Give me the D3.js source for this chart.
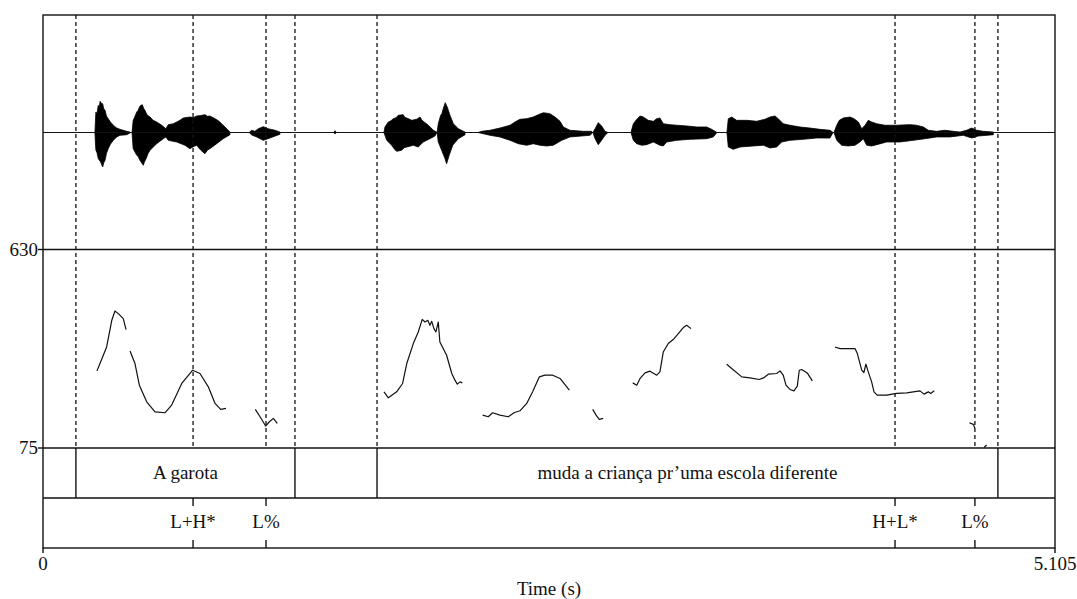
<!DOCTYPE html>
<html>
<head>
<meta charset="utf-8">
<script src="https://cdn.jsdelivr.net/npm/d3@7"></script>
<style>
  html, body { margin: 0; padding: 0; background: #fff; }
  svg text { font-family: "Liberation Serif", "Times New Roman", serif; fill: #111; }
</style>
</head>
<body>
<svg id="chart" width="1077" height="599"></svg>
<script>
// ---- data ----
const timeDomain = [0, 5.105];            // seconds
const pitchRange = [75, 630];              // Hz
const ampRange = [-1, 1];

// word tier: [start, end, label]
const wordIntervals = [
  [0, 0.166, ""],
  [0.166, 1.271, "A garota"],
  [1.271, 1.685, ""],
  [1.685, 4.817, "muda a criança pr’uma escola diferente"],
  [4.817, 5.105, ""]
];

// tone tier points
const toneTimes = [0.757, 1.125, 4.298, 4.701];
const toneLabels = ["L+H*", "L%", "H+L*", "L%"];

// F0 contour, voiced stretches as [time (s), Hz]
const pitchSeg1 = [[0.272,290.6],[0.288,312],[0.321,357.5],[0.347,432],[0.363,458],[0.380,450.7],[0.405,436.7],[0.419,406]];
const pitchSeg2 = [[0.439,346.4],[0.464,311],[0.486,250.7],[0.523,204],[0.565,176],[0.615,173.5],[0.649,195],[0.700,255.4],[0.755,292.5],[0.792,283.3],[0.834,246],[0.868,199.7],[0.896,183],[0.923,185.7]];
const pitchSeg3 = [[1.071,183],[1.095,162.3],[1.123,136.4],[1.142,148.4],[1.162,157.8],[1.182,143.9]];
const pitchSeg4 = [[1.720,232],[1.742,215.3],[1.784,232],[1.814,255.4],[1.835,311.2],[1.868,367],[1.893,399.4],[1.913,434.8],[1.927,427.3],[1.941,432],[1.952,418],[1.961,429.2],[1.972,408.8],[1.982,399.4],[1.994,427.3],[2.002,371.5],[2.036,334.4],[2.062,283.3],[2.078,264.7],[2.090,253.5],[2.104,259.9],[2.115,257.1]];
const pitchSeg5 = [[2.218,167],[2.246,162.3],[2.268,173.5],[2.305,167],[2.347,162.3],[2.376,173.5],[2.406,179],[2.440,199.7],[2.470,232],[2.504,273.9],[2.532,278.6],[2.571,278.6],[2.608,269.4],[2.655,236.8]];
const pitchSeg6 = [[2.773,183],[2.790,167],[2.806,155],[2.826,157.8]];
const pitchSeg7 = [[2.975,257.1],[2.995,250.7],[3.012,269.4],[3.037,285],[3.062,289.8],[3.096,278.6],[3.112,287.8],[3.129,343.6],[3.154,367],[3.179,378.2],[3.205,394.9],[3.230,411.6],[3.247,418],[3.269,408.8]];
const pitchSeg8 = [[3.449,309.3],[3.474,297.3],[3.525,273.9],[3.566,271],[3.613,266.6],[3.634,271],[3.659,281.4],[3.701,283.3],[3.718,290.6],[3.734,278.6],[3.748,250.7],[3.768,238.7],[3.788,234.8],[3.805,247.9],[3.815,292.5],[3.827,294.5],[3.855,285],[3.881,262.7]];
const pitchSeg9 = [[3.995,357.5],[4.021,353],[4.096,353],[4.108,339.1],[4.130,292.5],[4.141,286.1],[4.151,309.3],[4.163,287.8],[4.180,259.9],[4.192,232],[4.208,222.8],[4.256,222.8],[4.306,227.6],[4.357,229.2],[4.390,232],[4.424,234.8],[4.444,225.6],[4.466,232],[4.478,227.6],[4.496,234.8]];
const pitchSeg10 = [[4.673,145.6],[4.693,141.1],[4.701,130]];
const pitchSeg11 = [[4.748,77],[4.760,83.4]];
const pitchSegments = [pitchSeg1, pitchSeg2, pitchSeg3, pitchSeg4, pitchSeg5, pitchSeg6,
                       pitchSeg7, pitchSeg8, pitchSeg9, pitchSeg10, pitchSeg11];

// waveform amplitude envelope per burst: upper and lower edges as [time, amplitude]
const waveBursts = [
  { upper: [[0.262,0],[0.265,0.120],[0.267,0.175],[0.272,0.160],[0.279,0.232],[0.284,0.215],[0.288,0.267],[0.294,0.250],[0.301,0.246],[0.306,0.205],[0.313,0.190],[0.320,0.140],[0.329,0.118],[0.340,0.090],[0.355,0.062],[0.370,0.040],[0.388,0.027],[0.422,0.010],[0.439,0.004]],
    lower: [[0.262,0],[0.265,-0.110],[0.267,-0.152],[0.272,-0.170],[0.279,-0.224],[0.290,-0.250],[0.301,-0.295],[0.306,-0.260],[0.313,-0.238],[0.320,-0.180],[0.329,-0.138],[0.340,-0.100],[0.355,-0.067],[0.370,-0.040],[0.388,-0.024],[0.422,-0.019],[0.439,-0.004]] },
  { upper: [[0.449,0],[0.455,0.104],[0.462,0.130],[0.473,0.175],[0.480,0.190],[0.489,0.226],[0.501,0.238],[0.508,0.205],[0.514,0.190],[0.525,0.150],[0.540,0.132],[0.555,0.105],[0.573,0.090],[0.599,0.062],[0.620,0.032],[0.632,0.067],[0.657,0.075],[0.682,0.096],[0.695,0.110],[0.708,0.124],[0.741,0.132],[0.760,0.128],[0.775,0.141],[0.795,0.145],[0.817,0.152],[0.830,0.138],[0.842,0.141],[0.868,0.118],[0.885,0.100],[0.901,0.075],[0.927,0.032],[0.943,0.004]],
    lower: [[0.449,0],[0.455,-0.138],[0.473,-0.195],[0.480,-0.205],[0.489,-0.238],[0.506,-0.280],[0.512,-0.250],[0.520,-0.224],[0.530,-0.180],[0.540,-0.152],[0.573,-0.096],[0.607,-0.053],[0.620,-0.038],[0.632,-0.067],[0.674,-0.081],[0.716,-0.109],[0.741,-0.138],[0.760,-0.120],[0.775,-0.109],[0.795,-0.150],[0.817,-0.181],[0.830,-0.150],[0.842,-0.138],[0.876,-0.096],[0.909,-0.053],[0.943,-0.019]] },
  { upper: [[1.040,0],[1.053,0.019],[1.069,0.010],[1.086,0.032],[1.111,0.050],[1.136,0.032],[1.170,0.019],[1.195,0.004]],
    lower: [[1.040,0],[1.053,-0.021],[1.078,-0.038],[1.111,-0.067],[1.145,-0.047],[1.195,-0.015]] },
  { upper: [[1.466,0],[1.473,0.015],[1.480,0]],
    lower: [[1.466,0],[1.473,-0.012],[1.480,0]] },
  { upper: [[1.720,0],[1.725,0.047],[1.742,0.090],[1.755,0.100],[1.767,0.118],[1.780,0.125],[1.792,0.147],[1.817,0.152],[1.826,0.128],[1.835,0.124],[1.860,0.104],[1.885,0.113],[1.902,0.132],[1.910,0.110],[1.918,0.096],[1.944,0.062],[1.969,0.019],[1.986,0.004]],
    lower: [[1.720,0],[1.734,-0.067],[1.759,-0.109],[1.772,-0.140],[1.784,-0.161],[1.809,-0.152],[1.822,-0.130],[1.835,-0.124],[1.868,-0.109],[1.893,-0.124],[1.918,-0.081],[1.952,-0.053],[1.977,-0.030],[1.986,-0.004]] },
  { upper: [[1.988,0],[1.994,0.075],[2.006,0.147],[2.012,0.160],[2.019,0.203],[2.029,0.255],[2.039,0.218],[2.053,0.147],[2.070,0.075],[2.095,0.032],[2.129,0.004]],
    lower: [[1.988,0],[1.994,-0.081],[2.011,-0.152],[2.028,-0.224],[2.036,-0.267],[2.049,-0.195],[2.067,-0.109],[2.095,-0.053],[2.129,-0.019]] },
  { upper: [[2.194,0],[2.213,0.010],[2.255,0.019],[2.305,0.038],[2.330,0.050],[2.356,0.062],[2.381,0.090],[2.406,0.113],[2.440,0.118],[2.473,0.132],[2.498,0.152],[2.524,0.169],[2.557,0.161],[2.583,0.132],[2.608,0.096],[2.625,0.047],[2.658,0.019],[2.726,0.010],[2.768,0.010]],
    lower: [[2.194,0],[2.255,-0.024],[2.305,-0.038],[2.356,-0.067],[2.398,-0.096],[2.440,-0.109],[2.473,-0.096],[2.507,-0.109],[2.541,-0.115],[2.574,-0.109],[2.617,-0.067],[2.658,-0.038],[2.759,-0.024],[2.768,-0.010]] },
  { upper: [[2.774,0],[2.785,0.032],[2.801,0.084],[2.818,0.056],[2.835,0.010],[2.850,0]],
    lower: [[2.774,0],[2.785,-0.053],[2.801,-0.104],[2.818,-0.067],[2.835,-0.024],[2.850,0]] },
  { upper: [[2.966,0],[2.978,0.075],[2.991,0.104],[3.012,0.141],[3.028,0.132],[3.053,0.104],[3.079,0.096],[3.096,0.118],[3.112,0.124],[3.129,0.075],[3.163,0.067],[3.197,0.062],[3.247,0.056],[3.298,0.047],[3.348,0.047],[3.373,0.027],[3.390,0.010],[3.400,0]],
    lower: [[2.966,0],[2.978,-0.067],[2.995,-0.096],[3.020,-0.109],[3.045,-0.104],[3.079,-0.081],[3.112,-0.109],[3.129,-0.115],[3.146,-0.081],[3.197,-0.067],[3.264,-0.058],[3.348,-0.053],[3.381,-0.038],[3.400,0]] },
  { upper: [[3.450,0],[3.457,0.118],[3.474,0.132],[3.499,0.104],[3.550,0.104],[3.600,0.096],[3.642,0.113],[3.667,0.132],[3.692,0.141],[3.709,0.118],[3.734,0.075],[3.768,0.062],[3.819,0.047],[3.869,0.038],[3.919,0.027],[3.970,0.019],[3.985,0]],
    lower: [[3.450,0],[3.457,-0.124],[3.482,-0.144],[3.516,-0.124],[3.583,-0.115],[3.634,-0.109],[3.667,-0.132],[3.701,-0.124],[3.726,-0.081],[3.768,-0.067],[3.835,-0.058],[3.903,-0.047],[3.970,-0.047],[3.985,0]] },
  { upper: [[3.990,0],[4.004,0.062],[4.017,0.104],[4.037,0.124],[4.071,0.132],[4.091,0.118],[4.113,0.090],[4.130,0.032],[4.147,0.062],[4.163,0.104],[4.180,0.090],[4.206,0.075],[4.247,0.062],[4.306,0.062],[4.373,0.067],[4.407,0.062],[4.441,0.047],[4.466,0.019],[4.508,0.010],[4.550,0.019],[4.592,0.010],[4.626,0.004],[4.659,0.019],[4.685,0.038],[4.710,0.019],[4.743,0.010],[4.794,0.004]],
    lower: [[3.990,0],[4.004,-0.067],[4.029,-0.109],[4.062,-0.115],[4.096,-0.109],[4.121,-0.081],[4.138,-0.053],[4.155,-0.109],[4.180,-0.115],[4.206,-0.104],[4.256,-0.081],[4.323,-0.081],[4.390,-0.067],[4.449,-0.053],[4.508,-0.038],[4.575,-0.038],[4.642,-0.024],[4.685,-0.047],[4.718,-0.030],[4.794,-0.019]] }
];

// ---- layout ----
const svg = d3.select("#chart");
const plotLeft = 43, plotRight = 1055;
const plotTop = 15, waveBottom = 249.5, pitchBottom = 448, tier1Bottom = 498, tier2Bottom = 548;
const ink = "#111";
const fontSize = 19;

const x = d3.scaleLinear().domain(timeDomain).range([plotLeft, plotRight]);
const yPitch = d3.scaleLinear().domain(pitchRange).range([pitchBottom, waveBottom]);
const yWave = d3.scaleLinear().domain(ampRange).range([waveBottom, plotTop + 0.5]);

// boundary / point times that are carried up through the signal panels
const wordBoundaries = wordIntervals.slice(1).map(d => d[0]);
const dashedTimes = wordBoundaries.concat(toneTimes).sort(d3.ascending);

// ---- waveform ----
const waveArea = svg.append("g");
waveBursts.forEach(b => {
  const pts = b.upper.concat(b.lower.slice().reverse());
  waveArea.append("path")
    .attr("d", d3.line().x(d => x(d[0])).y(d => yWave(d[1]))(pts) + "Z")
    .attr("fill", "#000").attr("stroke", "#000").attr("stroke-width", 0.8);
});
svg.append("line")
  .attr("x1", plotLeft).attr("x2", plotRight)
  .attr("y1", yWave(0)).attr("y2", yWave(0))
  .attr("stroke", ink).attr("stroke-width", 1.2);

// ---- pitch contour ----
const pitchLine = d3.line().x(d => x(d[0])).y(d => yPitch(d[1]));
svg.append("g").selectAll("path")
  .data(pitchSegments)
  .join("path")
  .attr("d", pitchLine)
  .attr("fill", "none").attr("stroke", ink).attr("stroke-width", 1.2)
  .attr("stroke-linejoin", "round");

// ---- dashed boundaries across signal panels ----
svg.append("g").selectAll("line")
  .data(dashedTimes)
  .join("line")
  .attr("x1", d => x(d)).attr("x2", d => x(d))
  .attr("y1", plotTop).attr("y2", pitchBottom)
  .attr("stroke", ink).attr("stroke-width", 1.3)
  .attr("stroke-dasharray", "4,3");

// ---- panel frames ----
const frame = svg.append("g").attr("stroke", ink).attr("stroke-width", 1.4).attr("fill", "none");
frame.append("rect").attr("x", plotLeft).attr("y", plotTop)
  .attr("width", plotRight - plotLeft).attr("height", tier2Bottom - plotTop);
[waveBottom, pitchBottom, tier1Bottom].forEach(yy => {
  frame.append("line").attr("x1", plotLeft).attr("x2", plotRight).attr("y1", yy).attr("y2", yy);
});

// word tier boundaries and labels
svg.append("g").selectAll("line")
  .data(wordBoundaries)
  .join("line")
  .attr("x1", d => x(d)).attr("x2", d => x(d))
  .attr("y1", pitchBottom).attr("y2", tier1Bottom)
  .attr("stroke", ink).attr("stroke-width", 1.4);
svg.append("g").selectAll("text")
  .data(wordIntervals.filter(d => d[2]))
  .join("text")
  .attr("x", d => x((d[0] + d[1]) / 2))
  .attr("y", (pitchBottom + tier1Bottom) / 2 + 6)
  .attr("text-anchor", "middle")
  .attr("font-size", fontSize)
  .text(d => d[2]);

// tone tier points: ticks at top and bottom, label in between
const tones = svg.append("g");
toneTimes.forEach((t, i) => {
  tones.append("line").attr("x1", x(t)).attr("x2", x(t))
    .attr("y1", tier1Bottom).attr("y2", tier1Bottom + 8)
    .attr("stroke", ink).attr("stroke-width", 1.4);
  tones.append("line").attr("x1", x(t)).attr("x2", x(t))
    .attr("y1", tier2Bottom - 8).attr("y2", tier2Bottom)
    .attr("stroke", ink).attr("stroke-width", 1.4);
  tones.append("text")
    .attr("x", x(t)).attr("y", (tier1Bottom + tier2Bottom) / 2 + 5)
    .attr("text-anchor", "middle").attr("font-size", fontSize)
    .text(toneLabels[i]);
});

// ---- pitch axis labels ----
const yAxisG = svg.append("g");
pitchRange.forEach(v => {
  yAxisG.append("line").attr("x1", plotLeft - 5).attr("x2", plotLeft)
    .attr("y1", yPitch(v)).attr("y2", yPitch(v))
    .attr("stroke", ink).attr("stroke-width", 1.4);
  yAxisG.append("text")
    .attr("x", plotLeft - 5).attr("y", yPitch(v) + 6)
    .attr("text-anchor", "end").attr("font-size", fontSize)
    .text(v);
});

// ---- time axis ----
const xAxisG = svg.append("g");
timeDomain.forEach(v => {
  xAxisG.append("line").attr("x1", x(v)).attr("x2", x(v))
    .attr("y1", tier2Bottom).attr("y2", tier2Bottom + 5)
    .attr("stroke", ink).attr("stroke-width", 1.4);
  xAxisG.append("text")
    .attr("x", x(v)).attr("y", tier2Bottom + 22)
    .attr("text-anchor", "middle").attr("font-size", fontSize)
    .text(v === 0 ? "0" : d3.format(".3f")(v));
});
svg.append("text")
  .attr("x", (plotLeft + plotRight) / 2).attr("y", 595)
  .attr("text-anchor", "middle").attr("font-size", fontSize)
  .text("Time (s)");
</script>
</body>
</html>
